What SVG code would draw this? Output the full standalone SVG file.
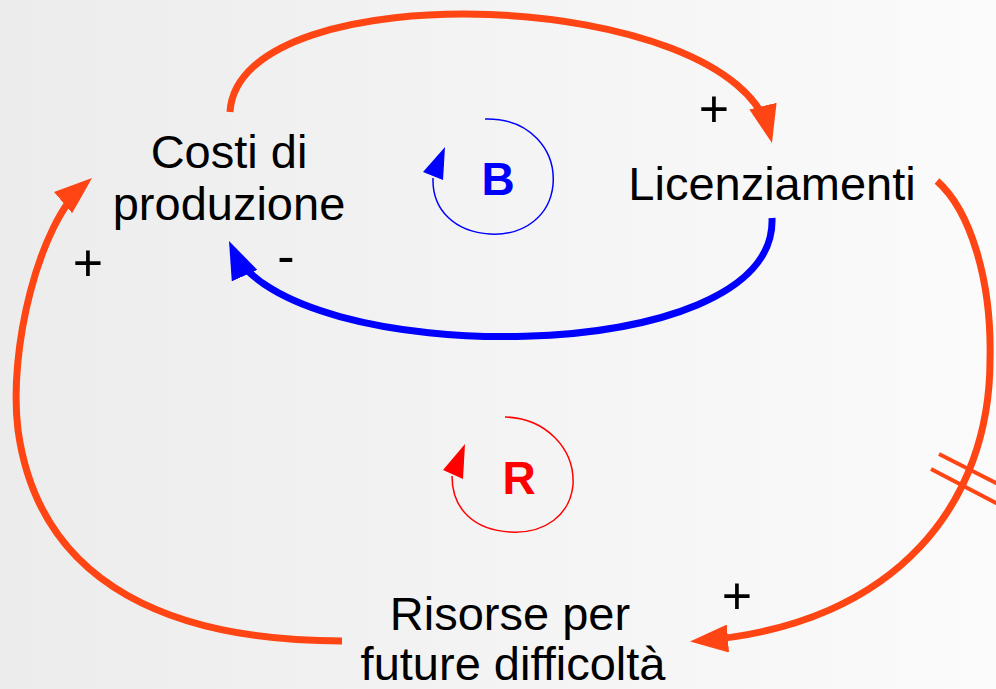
<svg xmlns="http://www.w3.org/2000/svg" width="996" height="689" viewBox="0 0 996 689">
<defs>
<linearGradient id="bg" x1="0" y1="0" x2="1" y2="0">
<stop offset="0" stop-color="#ececec"/>
<stop offset="1" stop-color="#fbfbfb"/>
</linearGradient>
<marker id="ao" markerUnits="userSpaceOnUse" viewBox="0 0 38 28" refX="28" refY="14" markerWidth="38" markerHeight="28" orient="auto">
<path d="M0,0 L38,14 L0,28 z" fill="#ff4513"/>
</marker>
<marker id="ab" markerUnits="userSpaceOnUse" viewBox="0 0 38 28" refX="28" refY="14" markerWidth="38" markerHeight="28" orient="auto">
<path d="M0,0 L38,14 L0,28 z" fill="#0000ff"/>
</marker>
<style>
.lbl{font-family:"Liberation Sans",Arial,sans-serif;font-size:47px;fill:#000;text-anchor:middle}
.sgn{font-family:"Liberation Sans",Arial,sans-serif;font-size:52px;fill:#000;text-anchor:middle}
.loop{font-family:"Liberation Sans",Arial,sans-serif;font-size:46px;font-weight:bold;text-anchor:middle}
.or{fill:none;stroke:#ff4513;stroke-width:7}
.bl{fill:none;stroke:#0000ff;stroke-width:7}
</style>
</defs>
<rect width="996" height="689" fill="url(#bg)"/>
<g id="connectors">
<path class="or" d="M230 112 C238 -30, 734 -13, 769.6 133.3" marker-end="url(#ao)"/>
<path class="bl" d="M772 218 C778 372, 286.4 368.8, 233.1 250.1" marker-end="url(#ab)"/>
<path class="or" d="M937 181 C970 210, 992 280, 990 360 C990 500, 900 625, 700 640.7" marker-end="url(#ao)"/>
<path class="or" d="M342 641 C180 641, 40 590, 18 430 C8 350, 38.7 223.3, 84.4 184.5" marker-end="url(#ao)"/>
<line x1="939" y1="454" x2="1000" y2="485" stroke="#ff4513" stroke-width="4"/>
<line x1="931" y1="469" x2="1000" y2="505" stroke="#ff4513" stroke-width="4"/>
<text class="sgn" x="714" y="127">+</text>
<text class="sgn" x="88" y="281">+</text>
<text class="sgn" x="737" y="614">+</text>
<text class="sgn" x="286" y="274">-</text>
</g>
<g id="node-costi">
<text class="lbl" x="229" y="168">Costi di</text>
<text class="lbl" x="229" y="220">produzione</text>
</g>
<g id="node-licenziamenti">
<text class="lbl" x="772" y="200">Licenziamenti</text>
</g>
<g id="node-risorse">
<text class="lbl" x="510" y="630">Risorse per</text>
<text class="lbl" x="513" y="680">future difficoltà</text>
</g>
<g id="loop-B">
<path d="M485 119 C530 118, 556 150, 553 185 C550 215, 525 236, 490 234 C455 232, 432 210, 433 178" fill="none" stroke="#0000ff" stroke-width="1.5"/>
<polygon points="445,147 423,172 443,180" fill="#0000ff"/>
<text class="loop" x="498" y="195" fill="#0000ff">B</text>
</g>
<g id="loop-R">
<path d="M505 417 C545 418, 575 448, 573 485 C570 515, 545 534, 510 532 C475 530, 452 510, 452 476" fill="none" stroke="#ff0000" stroke-width="1.5"/>
<polygon points="465,444 443,470 463,479" fill="#ff0000"/>
<text class="loop" x="519" y="494" fill="#ff0000">R</text>
</g>
</svg>
